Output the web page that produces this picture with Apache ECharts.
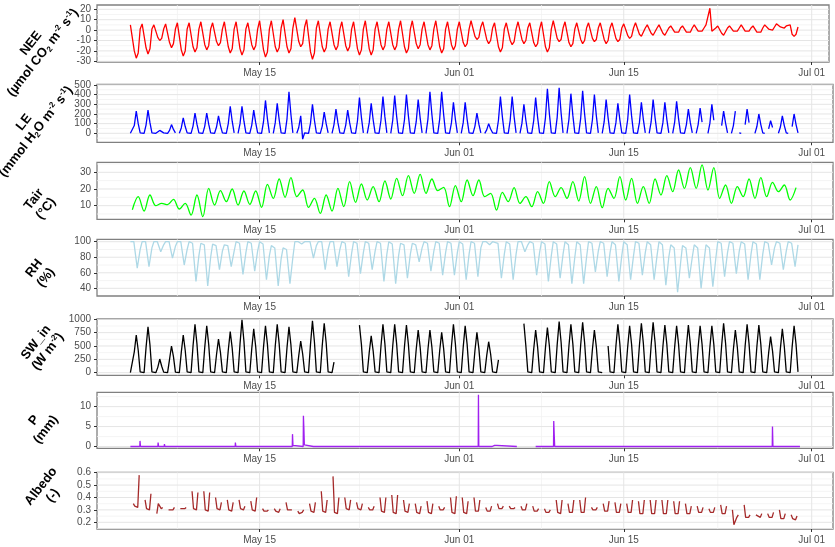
<!DOCTYPE html>
<html><head><meta charset="utf-8">
<script src="https://cdn.jsdelivr.net/npm/echarts@6/dist/echarts.min.js"></script>
<style>html,body{margin:0;padding:0;background:#fff}#c{width:835px;height:547px}</style>
</head><body><div id="c"></div>
<script>
// ---- time axis (days since May 1, 00:00) ----
const START_DAY = 3;                       // data start: May 4
const X_TICKS = [14, 31, 45, 61];
const X_TICK_LABELS = ['May 15', 'Jun 01', 'Jun 15', 'Jul 01'];
const X_MINOR = [7, 22.5, 38, 53];

// ---- sampling hours within each day ----
const H6 = [0, 4, 8, 12, 16, 20];
const H_TAIR = [4, 16];
const H_RH = [0, 7, 14, 20];
const H_ALB = [6, 9, 15, 18];

// ---- NEE (µmol CO2 m-2 s-1), 6 values per day ----
const NEE = [
 5,5,-20,-27,-22,1,  6,5,-17,-23,-18,1,  5,4,-7,-10,-8,1,  6,7,-12,-17,-13,1,
 7,7,-19,-25,-20,1,  7,6,-16,-21,-17,1,  8,7,-14,-19,-15,1,  7,6,-11,-15,-12,1,
 8,7,-16,-22,-18,1,  8,8,-18,-24,-19,1,  7,7,-14,-19,-15,1,  9,8,-19,-26,-21,1,
 9,9,-16,-21,-17,2,  10,10,-16,-22,-18,2,  12,11,-11,-16,-13,3,  10,9,-21,-28,-22,2,
 9,8,-16,-21,-17,1,  8,8,-14,-19,-15,1,  8,8,-15,-20,-16,1,  8,8,-18,-24,-19,1,
 9,8,-18,-24,-19,1,  8,7,-14,-19,-15,1,  8,8,-14,-19,-15,1,  9,8,-16,-22,-18,1,
 9,8,-13,-18,-14,1,  8,8,-14,-19,-15,1,  9,8,-16,-22,-18,1,  8,7,-14,-19,-15,1,
 8,8,-12,-16,-13,1,  9,8,-6,-9,-7,3,  8,8,-9,-13,-10,2,  7,7,-16,-21,-17,1,
 7,7,-10,-14,-11,1,  8,7,-9,-13,-10,2,  7,7,-12,-16,-13,1,  8,8,-16,-21,-17,1,
 9,8,-8,-11,-9,2,  8,8,-12,-16,-13,1,  7,7,-9,-13,-10,2,  7,6,-8,-11,-9,2,
 7,7,-9,-13,-10,2,  7,6,-8,-11,-9,2,  6,6,-5,-8,-6,2,  7,6,-4,-6,-5,2,
 5,5,-3,-5,-4,2,  5,5,-3,-5,-4,2,  4,4,-2,-3,-2,2,  4,4,-2,-3,-2,2,
 5,4,-1,-2,-1,2,  5,5,21,-1,-1,2,  4,4,-3,-5,-4,2,  4,4,-1,-2,-1,2,
 5,4,-1,-2,-1,2,  4,4,-2,-3,-2,2,  5,5,1,0,0,3,  6,6,3,2,2,4,
 5,5,-4,-6,-4,3
];

// ---- LE (mmol H2O m-2 s-1), 6 values per day ----
const LE = [
 0,0,80,230,100,5,  0,0,85,240,110,5,  0,0,10,30,15,5,  0,0,30,90,40,5,
 null,0,55,160,70,5,  0,0,75,210,95,5,  0,0,75,210,95,5,  0,0,65,180,80,5,
 0,0,100,280,125,5,  null,0,100,280,125,5,  0,0,85,240,110,5,  0,0,120,340,150,5,
 null,0,110,310,140,5,  0,0,150,430,195,5,  null,0,60,180,-60,5,  0,0,105,300,135,5,
 0,0,75,220,100,5,  null,0,90,250,110,5,  0,0,85,240,110,5,  0,0,130,370,165,5,
 null,0,110,310,140,5,  0,0,135,380,170,5,  null,0,135,390,175,5,  0,0,140,400,180,5,
 0,0,120,350,160,5,  null,0,150,430,195,5,  0,0,150,430,195,5,  0,0,110,320,145,5,
 null,0,110,320,145,5,  0,0,75,210,95,5,  null,0,35,100,45,5,  0,0,135,380,170,5,
 0,0,135,380,170,5,  null,0,105,300,135,5,  0,0,130,370,165,5,  0,0,160,460,205,5,
 0,0,165,470,210,5,  null,0,145,410,185,5,  0,0,155,440,200,5,  0,0,140,400,180,5,
 null,0,120,350,160,5,  0,0,110,310,140,5,  0,0,140,400,180,5,  0,0,110,320,145,5,
 null,0,120,350,160,5,  0,0,110,320,145,5,  null,0,115,330,150,5,  0,0,90,250,110,5,
 null,0,90,260,115,null,  null,0,105,300,135,null,  0,null,80,230,105,5,  null,0,80,230,null,5,
 0,null,90,250,110,null,  null,0,70,200,90,5,  0,null,45,130,60,null,  null,0,65,180,80,5,
 0,null,70,200,90,5
];

// ---- Tair (°C): daily minimum (04h) and maximum (16h) ----
const TAIR = [
 7.6,15.4, 6.8,16.4, 10,11.4, 10.6,13.8, 8,11.4, 4.4,16.4, 3.4,20.4, 10.4,19,
 12.4,20, 10.4,18.8, 10.8,18.8, 9,22.8, 14.4,26, 15,26.8, 15.4,19.4, 9,14.4,
 5.4,16.4, 6.8,20.4, 9.4,24.4, 12,23, 13.4,21.4, 12.4,24.8, 14,26.4, 16,28,
 17.4,28.8, 17.4,26, 19,21, 9.4,22, 12.4,25.4, 16,25.4, 15.4,17.4, 7.4,18,
 12.4,20.8, 11.4,15.4, 9.4,18.4, 11.4,24.4, 15.4,20.8, 14.4,24.4, 12.8,27.4, 11.4,21.4,
 8.8,20.4, 14.4,27.4, 13.4,26.4, 11.4,21.4, 11.4,26, 16.4,28, 18.4,31.4, 20.4,32.8,
 20.4,34.4, 19.4,32.8, 14.4,22.4, 11.4,21.4, 15.4,26, 14.4,26.8, 15.4,24, 18.4,22.4,
 13.4,20.8
];

// ---- RH (%), 4 values per day ----
const RH = [
 100,100,66,90,  100,100,68,92,  100,100,87,96,  100,100,79,94,
 100,100,70,90,  100,98,49,82,  98,96,43,80,  97,95,64,88,
 96,95,68,88,  100,98,58,86,  100,98,62,88,  100,97,51,82,
 95,92,43,78,  92,90,46,80,  100,100,97,100,  100,100,79,95,
 100,100,64,90,  100,100,68,90,  100,98,55,85,  100,98,59,86,
 100,98,64,88,  100,98,49,84,  100,97,46,82,  98,96,53,84,
 98,96,74,92,  100,98,62,88,  100,98,57,86,  100,98,57,86,
 100,97,51,84,  100,98,55,92,  100,100,96,100,  100,98,53,84,
 100,97,51,84,  100,100,87,96,  100,98,57,86,  100,97,49,82,
 100,97,53,84,  100,96,46,80,  100,96,46,80,  100,98,61,88,
 100,98,55,86,  100,96,49,82,  100,96,51,82,  100,98,57,86,
 100,96,51,82,  100,96,44,80,  96,92,35,72,  95,92,53,80,
 96,92,40,75,  96,92,42,78,  100,98,55,86,  100,98,59,88,
 100,97,51,84,  100,97,51,84,  100,98,70,92,  100,98,64,88,
 100,98,68,96
];

// ---- SW_in (W m-2), 6 values per day ----
const SW = [
 0,0,390,706,420,15,  0,0,470,860,520,15,  0,0,100,256,120,10,  0,0,250,500,300,10,
 0,0,380,706,420,15,  0,0,500,906,540,15,  0,0,480,880,530,15,  0,0,340,630,380,15,
 0,0,420,770,460,15,  0,0,540,990,590,15,  0,0,450,820,490,15,  0,0,480,880,530,15,
 0,0,500,906,540,15,  0,0,470,860,520,15,  0,0,320,590,350,15,  0,0,530,970,580,15,
 0,0,510,925,560,15,  0,0,200,null,null,null,  null,null,null,null,null,null,  null,null,null,890,530,15,
 0,0,380,690,410,15,  0,0,500,906,540,15,  0,0,500,906,540,15,  0,0,490,890,530,15,
 0,0,440,800,480,15,  0,0,440,800,480,15,  0,0,415,756,450,15,  0,0,500,906,540,15,
 0,0,480,880,530,15,  0,0,415,756,450,15,  0,0,320,580,350,15,  0,0,240,null,null,null,
 null,null,null,null,null,null,  null,null,null,920,500,15,  0,0,440,800,480,15,  0,0,465,843,505,15,
 0,0,525,956,570,15,  0,0,500,906,540,15,  0,0,520,943,565,15,  0,0,440,800,480,15,
 0,0,null,null,500,15,  0,0,500,906,540,15,  0,0,480,880,530,15,  0,0,510,925,555,15,
 0,0,520,943,565,15,  0,0,490,893,535,15,  0,0,480,880,530,15,  0,0,490,893,535,15,
 0,0,480,880,530,15,  0,0,480,880,530,15,  0,0,510,925,555,15,  0,0,440,800,480,15,
 0,0,500,906,540,15,  0,0,490,893,535,15,  0,0,370,675,405,15,  0,0,450,820,490,15,
 0,0,480,880,530,15
];

// ---- P (mm): [days since May 4, value]; null = missing ----
const P = [
 [0,0],[0.80,0],[0.82,1.4],[0.86,0],[2.34,0],[2.36,1.0],[2.40,0],[2.88,0],[2.90,0.6],[2.94,0],
 [7.13,0],[7.15,0.4],[7.18,0],[7.84,0],[7.86,0.5],[7.89,0],[8.48,0],[8.50,0.4],[8.53,0],
 [8.92,0],[8.94,1.0],[8.98,0],[13.78,0],[13.80,3.1],[13.84,0.3],[13.90,0],
 [14.71,0],[14.73,7.7],[14.77,4.5],[14.81,0.4],[14.86,0],[15.58,0],[15.60,0.5],[15.64,0.3],[15.70,0],
 [24.38,0],[24.40,0.2],[24.43,0],[25.78,0],[25.80,0.2],[25.83,0],[28.58,0],[28.60,0.3],[28.63,0],
 [29.61,0],[29.63,13.0],[29.66,0],[30.80,0],[30.82,0.3],[31.0,0.3],[31.2,0.3],[31.22,0],
 [32.90,0],[32.91,null],[34.50,0],
 [36.02,0],[36.04,6.4],[36.08,3.0],[36.12,0],[54.64,0],[54.66,5.0],[54.70,0],
 [55.58,0],[55.60,0.4],[55.64,0],[56.58,0],[56.60,0.3],[56.64,0],[57.0,0]
];

// ---- Albedo (-), daytime only, 4 values per day ----
const ALBEDO = [
 0.35,0.33,0.32,0.58,  0.38,0.31,0.30,0.43,  0.27,0.35,0.31,0.32,  0.30,0.31,0.30,0.32,
 0.31,0.32,0.31,0.32,  0.45,0.31,0.30,0.44,  0.45,0.30,0.29,0.44,  0.40,0.31,0.30,0.36,
 0.38,0.30,0.29,0.36,  0.38,0.31,0.30,0.33,  0.37,0.30,0.29,0.40,  0.31,0.29,0.29,0.30,
 0.31,0.29,0.28,0.31,  0.36,0.30,0.30,0.30,  0.29,0.27,0.28,0.30,  0.35,0.29,0.28,0.36,
 0.45,0.29,0.28,0.38,  0.57,0.28,0.27,0.40,  0.40,0.31,0.30,0.38,  0.36,0.31,0.30,0.35,
 0.32,0.30,0.30,0.33,  0.40,0.29,0.28,0.40,  0.42,0.28,0.27,0.42,  0.38,0.29,0.28,0.35,
 0.35,0.28,0.27,0.33,  0.37,0.28,0.27,0.35,  0.33,0.30,0.30,0.32,  0.40,0.28,0.27,0.41,
 0.40,0.28,0.27,0.37,  0.40,0.29,0.29,0.38,  0.32,0.29,0.29,0.33,  0.35,0.31,0.31,0.33,
 0.33,0.31,0.31,0.32,  0.33,0.30,0.30,0.35,  0.33,0.29,0.29,0.31,  0.31,0.28,0.28,0.30,
 0.38,0.28,0.27,0.38,  0.35,0.28,0.28,0.38,  0.38,0.28,0.28,0.40,  0.32,0.30,0.30,0.32,
 0.35,0.29,0.29,0.37,  0.36,0.28,0.28,0.35,  0.35,0.28,0.28,0.38,  0.37,0.27,0.27,0.38,
 0.38,0.27,0.27,0.38,  0.38,0.27,0.27,0.38,  0.37,0.27,0.27,0.37,  0.35,0.27,0.27,0.33,
 0.33,0.28,0.28,0.32,  0.31,0.28,0.28,0.32,  0.34,0.27,0.27,0.33,  0.30,0.18,0.24,0.26,
 0.34,0.24,0.24,0.26,  0.26,0.25,0.24,0.27,  0.27,0.24,0.24,0.28,  0.30,0.23,0.23,0.27,
 0.26,0.23,0.22,0.25
];

// ---- y-axis ticks ----
const NEE_TICKS = [-30,-20,-10,0,10,20],      NEE_MINOR = [-25,-15,-5,5,15];
const LE_TICKS = [0,100,200,300,400,500],     LE_MINOR = [-50,50,150,250,350,450];
const TAIR_TICKS = [10,20,30],                TAIR_MINOR = [5,15,25,35];
const RH_TICKS = [40,60,80,100],              RH_MINOR = [50,70,90];
const SW_TICKS = [0,250,500,750,1000],        SW_MINOR = [125,375,625,875];
const P_TICKS = [0,5,10],                     P_MINOR = [2.5,7.5,12.5];
const ALB_TICKS = [0.2,0.3,0.4,0.5,0.6],      ALB_MINOR = [0.15,0.25,0.35,0.45,0.55];

// ---- build data ----
function diurnal(vals, hours) {
  const out = [];
  for (let i = 0; i < vals.length; i++) {
    const d = Math.floor(i / hours.length), h = hours[i % hours.length];
    out.push([START_DAY + d + h / 24, vals[i]]);
  }
  return out;
}
function albedoData(vals, hours) {
  const out = [];
  for (let i = 0; i < vals.length; i++) {
    const d = Math.floor(i / hours.length), k = i % hours.length;
    out.push([START_DAY + d + hours[k] / 24, vals[i]]);
    if (k === hours.length - 1) out.push([START_DAY + d + 0.85, null]);
  }
  return out;
}
const pData = P.map(p => [START_DAY + p[0], p[1]]);

const FONT = "'Liberation Sans', Arial, sans-serif";
const T = {fontFamily: FONT, fontWeight: 'bold', fontSize: 13, lineHeight: 15, color: '#000'};
const S = {fontFamily: FONT, fontWeight: 'bold', fontSize: 8, lineHeight: 9, color: '#000'};
const RICH = {t: T, sup: Object.assign({}, S, {verticalAlign: 'top'}), sub: Object.assign({}, S, {verticalAlign: 'bottom'})};

const PANELS = [
  {data: diurnal(NEE, H6), color: '#ff0000', top: 5, bottom: 62, right: 829, min: -30.67, max: 24.13, ticks: NEE_TICKS, minor: NEE_MINOR,
   title: '{t|NEE}\n{t|(µmol CO}{sub|2}{t| m}{sup|-2}{t| s}{sup|-1}{t|)}', tx: 37, ty: 48},
  {data: diurnal(LE, H6), color: '#0000ff', top: 84.3, bottom: 142.3, right: 833, min: -93, max: 507, ticks: LE_TICKS, minor: LE_MINOR,
   title: '{t|LE}\n{t|(mmol H}{sub|2}{t|O m}{sup|-2}{t| s}{sup|-1}{t|)}', tx: 30, ty: 127},
  {data: diurnal(TAIR, H_TAIR), color: '#00ff00', top: 162.3, bottom: 219.3, right: 833, min: 1.84, max: 36, ticks: TAIR_TICKS, minor: TAIR_MINOR,
   title: '{t|Tair}\n{t|(°C)}', tx: 40, ty: 204, smooth: 0.35},
  {data: diurnal(RH, H_RH), color: '#add8e6', top: 239.3, bottom: 296, right: 833, min: 30.1, max: 103.1, ticks: RH_TICKS, minor: RH_MINOR,
   title: '{t|RH}\n{t|(%)}', tx: 40, ty: 273},
  {data: diurnal(SW, H6), color: '#000000', top: 319, bottom: 375.3, right: 833, min: -48.7, max: 1005.6, ticks: SW_TICKS, minor: SW_MINOR,
   title: '{t|SW_in}\n{t|(W m}{sup|-2}{t|)}', tx: 42, ty: 347},
  {data: pData, color: '#a020f0', top: 392.3, bottom: 448.3, right: 833, min: -0.45, max: 13.6, ticks: P_TICKS, minor: P_MINOR,
   title: '{t|P}\n{t|(mm)}', tx: 40, ty: 425},
  {data: albedoData(ALBEDO, H_ALB), color: '#a52a2a', top: 472.3, bottom: 529, right: 833, min: 0.146, max: 0.603, ticks: ALB_TICKS, minor: ALB_MINOR,
   title: '{t|Albedo}\n{t|(-)}', tx: 47, ty: 491}
];

const LEFT = 97;
const PX_PER_DAY = 11.747, MAY15_X = 259.6;
const XMIN = 14 - (MAY15_X - LEFT) / PX_PER_DAY;

// grid lines built from the tick arrays (drawn through the axes)
function gridLines(xs, ys, xmin, xmax, ymin, ymax) {
  const out = [];
  xs.forEach(x => { out.push([x, ymin], [x, ymax], [x, null]); });
  ys.forEach(y => { out.push([xmin, y], [xmax, y], [xmax, null]); });
  return out;
}

const grid = [], xAxis = [], yAxis = [], series = [], graphic = [];
const LABEL = {color: '#4d4d4d', fontSize: 10, fontFamily: FONT, showMinLabel: true, showMaxLabel: true};
PANELS.forEach((p, i) => {
  const xmax = 14 + (p.right - MAY15_X) / PX_PER_DAY;
  grid.push({left: LEFT, width: p.right - LEFT, top: p.top, height: p.bottom - p.top,
             show: true, borderColor: '#808080', borderWidth: 1.3, backgroundColor: 'transparent'});
  xAxis.push({type: 'value', gridIndex: i, min: XMIN, max: xmax,
    axisLine: {show: false, onZero: false}, splitLine: {show: false},
    axisTick: {show: true, customValues: X_TICKS, length: 3, lineStyle: {color: '#333', width: 1}},
    axisLabel: Object.assign({customValues: X_TICKS, margin: 6,
      formatter: v => X_TICK_LABELS[X_TICKS.indexOf(Math.round(v))] || ''}, LABEL)});
  // two overlaid y axes (alternate ticks each) so that no label gets hidden
  [0, 1].forEach(k => {
    const vals = p.ticks.filter((_, j) => j % 2 === k);
    yAxis.push({type: 'value', gridIndex: i, position: 'left', offset: 0, min: p.min, max: p.max,
      axisLine: {show: false, onZero: false}, splitLine: {show: false},
      axisTick: {show: true, customValues: vals, length: 3, lineStyle: {color: '#333', width: 1}},
      axisLabel: Object.assign({customValues: vals, margin: 6,
        formatter: v => String(Math.round(v * 100) / 100)}, LABEL)});
  });
  const yi = 2 * i;
  const common = {type: 'line', xAxisIndex: i, yAxisIndex: yi, silent: true, showSymbol: false, symbol: 'none',
                  connectNulls: false, animation: false, emphasis: {disabled: true}};
  series.push(Object.assign({}, common, {z: 1, data: gridLines(X_MINOR, p.minor, XMIN, xmax, p.min, p.max),
    lineStyle: {color: '#f1f1f1', width: 0.8, type: 'solid'}}));
  series.push(Object.assign({}, common, {z: 1, data: gridLines(X_TICKS, p.ticks, XMIN, xmax, p.min, p.max),
    lineStyle: {color: '#e5e5e5', width: 1, type: 'solid'}}));
  series.push(Object.assign({}, common, {z: 3, data: p.data, clip: true, smooth: p.smooth || false,
    lineStyle: {color: p.color, width: 1.3, type: 'solid', opacity: 1}, itemStyle: {color: p.color}}));
  graphic.push({type: 'text', x: p.tx, y: p.ty, rotation: 52 * Math.PI / 180, z: 10,
    style: {text: p.title, rich: RICH, align: 'center', verticalAlign: 'middle',
            textAlign: 'center', textVerticalAlign: 'middle', fill: '#000'}});
});

const chart = echarts.init(document.getElementById('c'));
chart.setOption({animation: false, backgroundColor: '#fff', grid, xAxis, yAxis, series, graphic});
</script>
</body></html>
